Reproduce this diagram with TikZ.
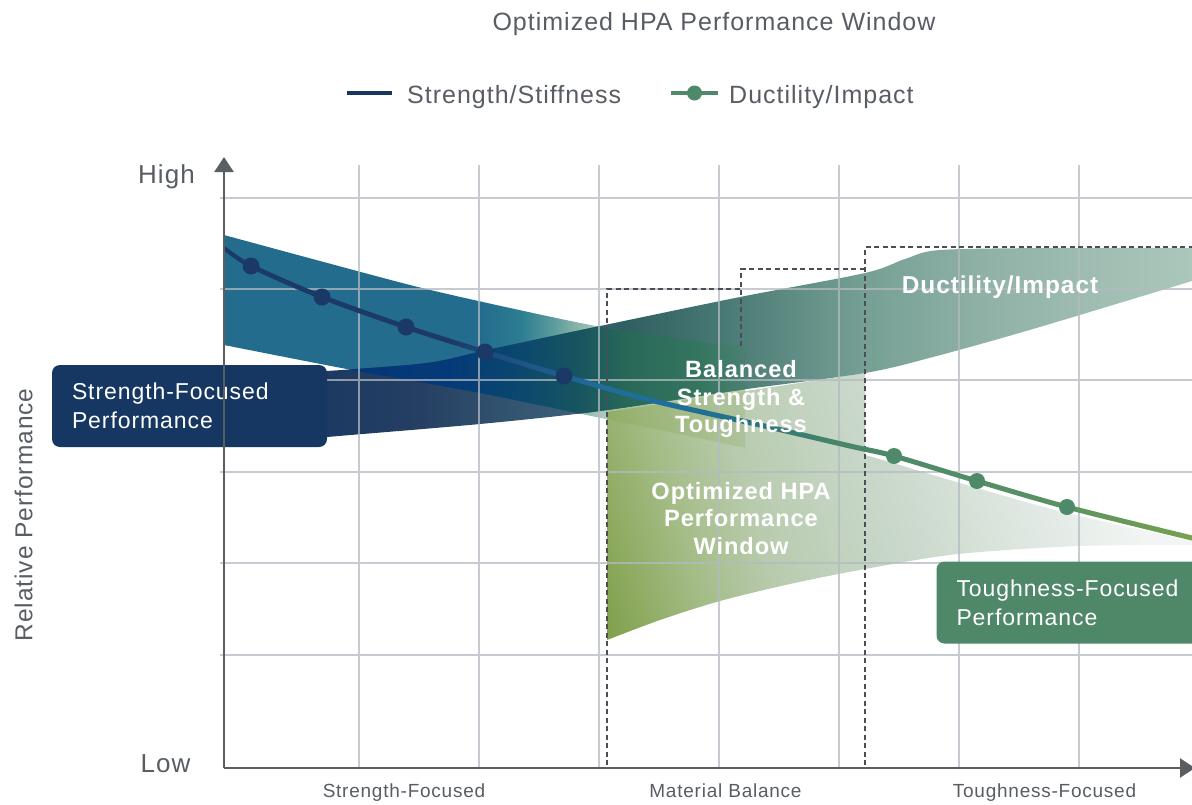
\documentclass[tikz,border=0pt]{standalone}
\usepackage{fontspec}
\setmainfont{Liberation Sans}[LetterSpace=4]
\usetikzlibrary{arrows.meta}

% plain colours
\definecolor{boxnavy}{HTML}{173763}
\definecolor{boxgreen}{HTML}{4F8769}
\definecolor{linenavy}{HTML}{17375F}
\definecolor{dotnavy}{HTML}{1B3966}
\definecolor{dotgreen}{HTML}{4E8A6A}
\definecolor{gridgray}{HTML}{B4BAC1}
\definecolor{axisgray}{HTML}{5A5E63}
\definecolor{textgray}{HTML}{585D63}
\definecolor{dashgray}{HTML}{4B4F55}

% strength band
\definecolor{sb1}{HTML}{236C8E}\definecolor{sb2}{HTML}{2C7D91}\definecolor{sb3}{HTML}{5B9B9C}
\definecolor{sb4}{HTML}{8EB8AC}\definecolor{sb5}{HTML}{AECBBD}\definecolor{sb6}{HTML}{C8D9C6}
\pgfdeclarehorizontalshading{strengthshade}{100bp}{color(0bp)=(sb1); color(49.6bp)=(sb1);
	color(53.4bp)=(sb2); color(56.6bp)=(sb3); color(59.2bp)=(sb4); color(61.6bp)=(sb5);
	color(75bp)=(sb6); color(100bp)=(sb6)}

% ductility band
\definecolor{db1}{HTML}{1A3862}\definecolor{db2}{HTML}{253F62}\definecolor{db3}{HTML}{345670}
\definecolor{db4}{HTML}{3F607A}\definecolor{db5}{HTML}{2F5F60}\definecolor{db6}{HTML}{4F7F78}
\definecolor{db7}{HTML}{76A095}\definecolor{db8}{HTML}{93B3A8}\definecolor{db9}{HTML}{ABC7BB}
\pgfdeclarehorizontalshading{ductshade}{100bp}{color(0bp)=(db1); color(25bp)=(db1);
	color(31.7bp)=(db2); color(37.3bp)=(db3); color(40.7bp)=(db4); color(43.2bp)=(db5);
	color(49.9bp)=(db6); color(56.7bp)=(db7); color(64.2bp)=(db8); color(75bp)=(db9);
	color(100bp)=(db9)}

% where both bands lie on one another
\definecolor{ov1}{HTML}{043478}\definecolor{ov2}{HTML}{053A78}\definecolor{ov3}{HTML}{0B476E}
\definecolor{ov4}{HTML}{18555F}\definecolor{ov5}{HTML}{276858}\definecolor{ov6}{HTML}{357660}
\definecolor{ov7}{HTML}{4A8070}\definecolor{ov8}{HTML}{78A096}
\pgfdeclarehorizontalshading{overlapshade}{100bp}{color(0bp)=(ov1); color(25bp)=(ov1);
	color(33.4bp)=(ov2); color(37.3bp)=(ov3); color(40.7bp)=(ov4); color(43.2bp)=(ov5);
	color(47.4bp)=(ov6); color(49.9bp)=(ov7); color(75bp)=(ov8); color(100bp)=(ov8)}

% performance window
\definecolor{hp1}{HTML}{80A04A}\definecolor{hp2}{HTML}{A4BC86}\definecolor{hp3}{HTML}{B8CBAE}
\definecolor{hp4}{HTML}{C3D3C0}\definecolor{hp5}{HTML}{C9D8CB}\definecolor{hp6}{HTML}{D4E0D6}
\definecolor{hp7}{HTML}{E5ECE8}\definecolor{hp8}{HTML}{F2F5F3}\definecolor{hp9}{HTML}{F6F8F7}
\pgfdeclarehorizontalshading{hpashade}{100bp}{color(0bp)=(hp1); color(18.9bp)=(hp1);
	color(28.8bp)=(hp2); color(36.3bp)=(hp3); color(43.9bp)=(hp4); color(49bp)=(hp5);
	color(55.3bp)=(hp6); color(64.9bp)=(hp7); color(71.9bp)=(hp8); color(100bp)=(hp9)}

% trend line
\definecolor{cv1}{HTML}{1B3A66}\definecolor{cv2}{HTML}{1E4A7A}\definecolor{cv3}{HTML}{1F5F90}
\definecolor{cv4}{HTML}{206C9C}\definecolor{cv5}{HTML}{1F6E96}\definecolor{cv6}{HTML}{2B757E}
\definecolor{cv7}{HTML}{468568}\definecolor{cv8}{HTML}{4E8A6A}\definecolor{cv9}{HTML}{5A9262}
\definecolor{cv10}{HTML}{77A050}
\pgfdeclarehorizontalshading{curveshade}{100bp}{color(0bp)=(cv1); color(36.7bp)=(cv1);
	color(38.5bp)=(cv2); color(42.4bp)=(cv3); color(44.4bp)=(cv4); color(49.6bp)=(cv5);
	color(52.7bp)=(cv6); color(56.3bp)=(cv7); color(59.9bp)=(cv8); color(67.7bp)=(cv9);
	color(75bp)=(cv10); color(100bp)=(cv10)}

\def\bandstrength{plot[smooth] coordinates {(224,235) (320,261) (418,287) (510,308) (601,327) (680,339) (745,347)}
	-- (745,448) -- plot[smooth] coordinates {(745,448) (670,432) (601,418) (480,393) (352,370) (224,345)} -- cycle}
\def\bandductility{plot[smooth] coordinates {(300,372) (327,371) (427,363) (487,350) (600,326) (740,297) (865,273) (905,259) (940,250) (1050,248) (1192,248)}
	-- (1192,281) -- plot[smooth] coordinates {(1192,281) (1033,329) (933,357) (865,373) (740,390) (600,411) (480,424) (327,437) (300,440)} -- cycle}
\def\bandhpa{(607,412) -- plot[smooth] coordinates {(607,640) (660,620) (720,601) (790,584) (865,569) (958,554) (1080,546) (1192,545)}
	-- (1192,541) -- plot[smooth] coordinates {(1192,541) (1067,513) (977,488) (893,463) (865,455)} -- (865,373) -- cycle}

\tikzset{
	gridline/.style={draw=gridgray, line width=1.8pt},
	boundary/.style={draw=dashgray, line width=1.5pt, dash pattern=on 5pt off 3.5pt},
	axisline/.style={draw=axisgray, line width=2.6pt, -{Triangle[width=19pt,length=15pt]}},
	plainlabel/.style={text=textgray, inner sep=0pt, anchor=base},
	bandlabel/.style={text=white, inner sep=0pt, align=center, font=\bfseries\fontsize{23.6}{27.7}\selectfont},
	focusbox/.style={rounded corners=8pt, text=white, align=left, inner xsep=20pt, inner ysep=0pt,
		minimum height=82pt, text width=235pt, font=\fontsize{23}{29}\selectfont},
}

\begin{document}
\begin{tikzpicture}[x=1pt, y=-1pt]
	\useasboundingbox (0,0) rectangle (1192,804);

	% Bands
	\shade[shading=strengthshade] \bandstrength;
	\shade[shading=hpashade, shading angle=16.7] \bandhpa;
	\begin{scope}
		\clip (607,300) rectangle (746,460);
		\fill[hp1, opacity=0.22] \bandstrength;
	\end{scope}
	\shade[shading=ductshade] \bandductility;
	\begin{scope}
		\clip \bandstrength;
		\shade[shading=overlapshade] \bandductility;
	\end{scope}

	% Grid
	\begin{scope}[transparency group, opacity=0.75]
		\foreach \gx in {359,479,599,719,839,959,1079}
			\draw[gridline] (\gx,165) -- (\gx,768);
		\foreach \gy in {198,289,380,472,563,655}
			\draw[gridline] (220,\gy) -- (1192,\gy);
	\end{scope}

	% Windows
	\draw[boundary] (607,765) -- (607,289) -- (741,289);
	\draw[boundary] (741,346) -- (741,269) -- (865,269);
	\draw[boundary] (865,765) -- (865,247) -- (1194,247);

	% Trend line and its points
	\shade[shading=curveshade] plot[smooth] coordinates {(224,245.4) (251,263.4) (322,294.4) (406,324.4) (485,349.4) (564,373.4) (650,397.4) (760,422.4) (850,443.4) (894,453.4) (977,478.4) (1067,504.4) (1192,535.4)}
		-- plot[smooth] coordinates {(1192,540.6) (1067,509.6) (977,483.6) (894,458.6) (850,448.6) (760,427.6) (650,402.6) (564,378.6) (485,354.6) (406,329.6) (322,299.6) (251,268.6) (224,250.6)} -- cycle;
	\foreach \px/\py in {251/266,322/297,406/327,485/352,564/376}
		\fill[dotnavy] (\px,\py) circle[radius=8.5pt];
	\foreach \px/\py in {894/456,977/481,1067/507}
		\fill[dotgreen] (\px,\py) circle[radius=8pt];

	% Labels in the bands
	\node[bandlabel] (balanced) at (741,399) {Balanced\\Strength \&\\Toughness};
	\node[bandlabel] (window) at (741,518.5) {Optimized HPA\\Performance\\Window};
	\node[bandlabel, anchor=base, font=\bfseries\fontsize{24.4}{28}\selectfont] (ductility) at (1000,293.3) {Ductility/Impact};

	% Focus boxes
	\node[focusbox, fill=boxnavy] (strengthbox) at (189.5,406) {Strength-Focused\\Performance};
	\node[focusbox, fill=boxgreen] (toughbox) at (1074,602.5) {Toughness-Focused\\Performance};

	% Axes
	\coordinate (origin) at (224,768);
	\coordinate (ytip) at (224,157);
	\coordinate (xtip) at (1195,768);
	\draw[axisline] (origin) -- (ytip);
	\draw[axisline] (origin) -- (xtip);

	\node[plainlabel, font=\fontsize{26}{30}\selectfont] (high) at (166.5,183.5) {High};
	\node[plainlabel, font=\fontsize{26}{30}\selectfont] (low) at (165.5,772.5) {Low};
	\node[plainlabel, rotate=90, font=\fontsize{24.5}{28}\selectfont] (ylabel) at (32.3,515) {Relative Performance};
	\node[plainlabel, font=\fontsize{19}{23}\selectfont] (zonestrength) at (404,797) {Strength-Focused};
	\node[plainlabel, font=\fontsize{19}{23}\selectfont] (zonebalance) at (725.5,797) {Material Balance};
	\node[plainlabel, font=\fontsize{19}{23}\selectfont] (zonetough) at (1044.5,797) {Toughness-Focused};

	% Title and key
	\node[plainlabel, font=\fontsize{25}{30}\selectfont] (title) at (714,30.5) {Optimized HPA Performance Window};
	\coordinate (keyA) at (347,93);
	\coordinate (keyB) at (392,93);
	\draw[linenavy, line width=4pt] (keyA) -- (keyB);
	\node[plainlabel, anchor=base west, font=\fontsize{25}{30}\selectfont] (keystrength) at (407,103) {Strength/Stiffness};
	\coordinate (keyC) at (671,93);
	\coordinate (keyD) at (718,93);
	\draw[dotgreen, line width=4pt] (keyC) -- (keyD);
	\node[shape=circle, fill=dotgreen, inner sep=0pt, minimum size=15pt] (keydot) at (694.5,93) {};
	\node[plainlabel, anchor=base west, font=\fontsize{25}{30}\selectfont] (keyductility) at (729,103) {Ductility/Impact};
\end{tikzpicture}
\end{document}
